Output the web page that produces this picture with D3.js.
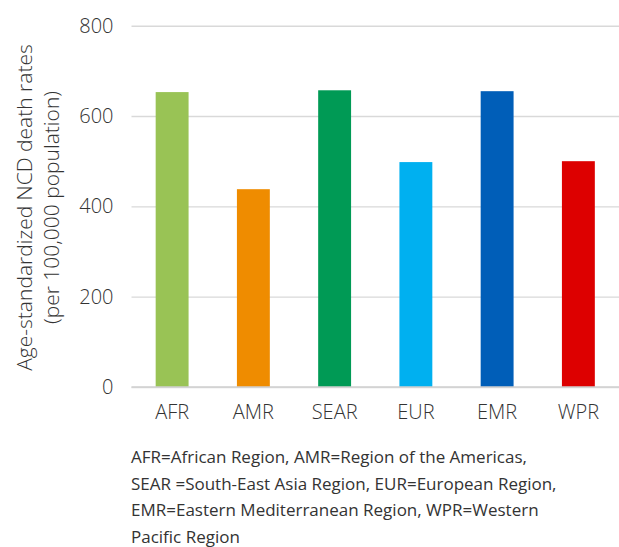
<!DOCTYPE html>
<html>
<head>
<meta charset="utf-8">
<script src="https://cdn.jsdelivr.net/npm/d3@7/dist/d3.min.js"></script>
<style>
  html, body { margin: 0; padding: 0; background: #fff; }
  svg { display: block; }
  text { font-family: "Open Sans", "Noto Sans", sans-serif; fill: #333; }
</style>
</head>
<body>
<svg id="chart" width="619" height="547"></svg>
<script>
const categories = ["AFR", "AMR", "SEAR", "EUR", "EMR", "WPR"];
const values = [653, 438, 657, 498, 655, 500];
const colors = ["#99C355", "#EF8C00", "#009A55", "#00B0F0", "#005EB8", "#DD0000"];
const yTicks = [0, 200, 400, 600, 800];
const yTitle = ["Age-standardized NCD death rates", "(per 100,000 population)"];
const footnote = [
  "AFR=African Region, AMR=Region of the Americas,",
  "SEAR =South-East Asia Region, EUR=European Region,",
  "EMR=Eastern Mediterranean Region, WPR=Western",
  "Pacific Region"
];

const svg = d3.select("#chart");
const mLeft = 131.5, mRight = 619, mTop = 25.7, mBottom = 387;

const x = d3.scaleBand().domain(categories).range([mLeft, mRight])
  .paddingInner(0.595).paddingOuter(0.2975);
const y = d3.scaleLinear().domain([0, 800]).range([mBottom, mTop]);

// gridlines
const yAxis = d3.axisLeft(y).tickValues(yTicks).tickSize(-(mRight - mLeft)).tickPadding(18);
const gy = svg.append("g").attr("transform", `translate(${mLeft},0)`).call(yAxis);
gy.select(".domain").remove();
gy.selectAll(".tick line").attr("stroke", "#d9d9d9").attr("stroke-width", 1.4);
gy.selectAll(".tick text")
  .style("font-size", "20px").style("font-weight", 300)
  .attr("fill", "#333");

// bars
svg.append("g").selectAll("rect").data(categories).join("rect")
  .attr("x", d => x(d))
  .attr("width", x.bandwidth())
  .attr("y", (d, i) => y(values[i]))
  .attr("height", (d, i) => y(0) - y(values[i]))
  .attr("fill", (d, i) => colors[i]);

// baseline
svg.append("line").attr("x1", mLeft).attr("x2", mRight)
  .attr("y1", y(0)).attr("y2", y(0))
  .attr("stroke", "#d0d0d0").attr("stroke-width", 1.4);

// x axis labels
const xAxis = d3.axisBottom(x).tickSize(0).tickPadding(0);
const gx = svg.append("g").attr("transform", `translate(0,${mBottom})`).call(xAxis);
gx.select(".domain").remove();
gx.selectAll(".tick text")
  .attr("dy", null).attr("y", 32)
  .style("font-size", "20px").style("font-weight", 300)
  .attr("fill", "#333");

// y title
const tg = svg.append("g").attr("transform", "translate(0,207.5) rotate(-90)");
tg.append("text").attr("x", 0).attr("y", 31.5).attr("text-anchor", "middle")
  .style("font-size", "21px").style("font-weight", 300).text(yTitle[0]);
tg.append("text").attr("x", 0).attr("y", 59).attr("text-anchor", "middle")
  .style("font-size", "21px").style("font-weight", 300).text(yTitle[1]);

// footnote
svg.append("g").selectAll("text").data(footnote).join("text")
  .attr("x", 131)
  .attr("y", (d, i) => 463.3 + i * 26.5)
  .style("font-size", "17px").style("font-weight", 400)
  .text(d => d);
</script>
</body>
</html>
